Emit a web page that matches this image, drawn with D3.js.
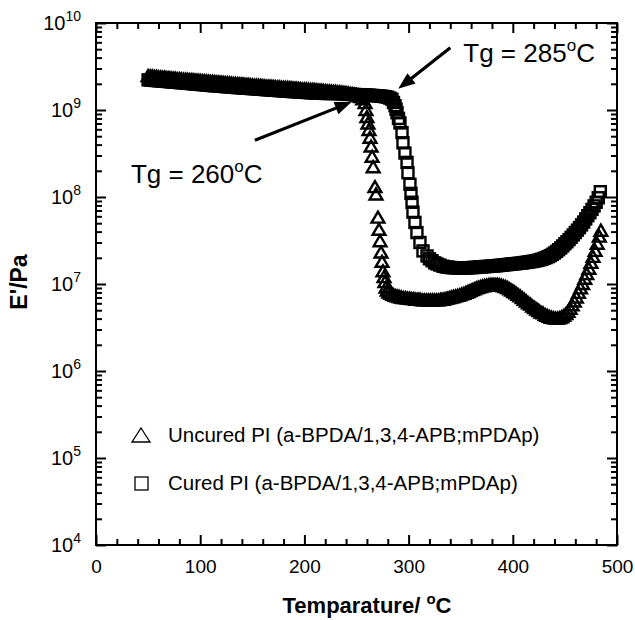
<!DOCTYPE html>
<html>
<head>
<meta charset="utf-8">
<script src="https://cdnjs.cloudflare.com/ajax/libs/d3/7.8.5/d3.min.js"></script>
<style>
  body { margin: 0; background: #fff; }
  text { font-family: Arial, "Liberation Sans", sans-serif; fill: #000; }
</style>
</head>
<body>
<div id="chart"></div>
<script>
// ---- data (temperature in degC, E' in Pa) ----
var uncuredT = [
  50,52,54,56,58,60,62,64,66,68,
  70,72,74,76,78,80,82,84,86,88,
  90,92,94,96,98,100,102,104,106,108,
  110,112,114,116,118,120,122,124,126,128,
  130,132,134,136,138,140,142,144,146,148,
  150,152,154,156,158,160,162,164,166,168,
  170,172,174,176,178,180,182,184,186,188,
  190,192,194,196,198,200,202,204,206,208,
  210,212,214,216,218,220,222,224,226,228,
  230,232,234,236,238,240,242,244,246,248,
  250,252,254,256,
  258.2,259.1,260,261,262,263,264,265,266,267.7,
  268.7,270.6,271.6,272.6,273.5,274.5,275.4,276.4,277.3,278.3,279.5,
  281,283,285,287,289,291,293,295,297,299,
  301,303,305,307,309,311,313,315,317,319,
  321,323,325,327,329,331,333,335,337,339,
  341,343,345,347,349,351,353,355,357,359,
  361,363,365,367,369,371,373,375,377,379,
  381,383,385,387,389,391,393,395,397,399,
  401,403,405,407,409,411,413,415,417,419,
  421,423,425,427,429,431,433,435,437,439,
  441,443,445,447,449,451,453,455,457,459,
  461,463,465,467,469,471,473,475,477,479,
  481,483,484.5
];
var uncuredE = [
  2.45e9,2.44e9,2.43e9,2.41e9,2.40e9,2.38e9,2.37e9,2.36e9,2.35e9,2.33e9,
  2.32e9,2.31e9,2.30e9,2.29e9,2.27e9,2.26e9,2.25e9,2.24e9,2.23e9,2.22e9,
  2.21e9,2.20e9,2.19e9,2.18e9,2.17e9,2.16e9,2.15e9,2.14e9,2.13e9,2.12e9,
  2.11e9,2.10e9,2.09e9,2.08e9,2.07e9,2.06e9,2.05e9,2.04e9,2.03e9,2.02e9,
  2.01e9,2.00e9,1.99e9,1.98e9,1.97e9,1.97e9,1.96e9,1.95e9,1.94e9,1.93e9,
  1.92e9,1.91e9,1.91e9,1.90e9,1.89e9,1.88e9,1.87e9,1.86e9,1.86e9,1.85e9,
  1.84e9,1.83e9,1.82e9,1.82e9,1.81e9,1.80e9,1.79e9,1.79e9,1.78e9,1.77e9,
  1.76e9,1.76e9,1.75e9,1.74e9,1.73e9,1.73e9,1.72e9,1.71e9,1.70e9,1.70e9,
  1.69e9,1.68e9,1.67e9,1.67e9,1.66e9,1.65e9,1.64e9,1.64e9,1.63e9,1.62e9,
  1.61e9,1.60e9,1.59e9,1.58e9,1.57e9,1.56e9,1.55e9,1.53e9,1.52e9,1.50e9,
  1.48e9,1.45e9,1.41e9,1.33e9,
  1.2e9,1.0e9,8.3e8,7.0e8,5.9e8,4.8e8,3.8e8,2.9e8,2.2e8,1.3e8,
  1.07e8,5.8e7,4.2e7,3.1e7,2.3e7,1.8e7,1.4e7,1.2e7,1.05e7,9.1e6,8.4e6,
  8.0e6,7.7e6,7.5e6,7.3e6,7.2e6,7.1e6,7.0e6,6.9e6,6.9e6,6.8e6,
  6.8e6,6.7e6,6.7e6,6.6e6,6.6e6,6.6e6,6.5e6,6.5e6,6.5e6,6.5e6,
  6.5e6,6.5e6,6.5e6,6.5e6,6.5e6,6.6e6,6.6e6,6.7e6,6.8e6,6.9e6,
  7.0e6,7.1e6,7.2e6,7.3e6,7.4e6,7.6e6,7.7e6,7.9e6,8.1e6,8.3e6,
  8.5e6,8.7e6,8.9e6,9.1e6,9.2e6,9.4e6,9.5e6,9.6e6,9.7e6,9.8e6,
  9.8e6,9.8e6,9.8e6,9.7e6,9.6e6,9.4e6,9.2e6,9.0e6,8.7e6,8.4e6,
  8.1e6,7.8e6,7.5e6,7.2e6,6.9e6,6.6e6,6.3e6,6.0e6,5.8e6,5.5e6,
  5.3e6,5.1e6,4.9e6,4.7e6,4.6e6,4.4e6,4.3e6,4.2e6,4.1e6,4.05e6,
  4.0e6,4.0e6,4.05e6,4.15e6,4.3e6,4.5e6,4.8e6,5.2e6,5.7e6,6.3e6,
  7.0e6,7.9e6,8.9e6,1.0e7,1.15e7,1.3e7,1.5e7,1.75e7,2.05e7,2.4e7,
  2.9e7,3.5e7,4.1e7
];

var curedT = [
  50,52,54,56,58,60,62,64,66,68,
  70,72,74,76,78,80,82,84,86,88,
  90,92,94,96,98,100,102,104,106,108,
  110,112,114,116,118,120,122,124,126,128,
  130,132,134,136,138,140,142,144,146,148,
  150,152,154,156,158,160,162,164,166,168,
  170,172,174,176,178,180,182,184,186,188,
  190,192,194,196,198,200,202,204,206,208,
  210,212,214,216,218,220,222,224,226,228,
  230,232,234,236,238,240,242,244,246,248,
  250,252,254,256,258,260,262,264,266,268,
  270,272,274,276,278,280,282,284,
  285.5,287,288,288.9,290.3,291.7,293.7,294.6,296.5,298.5,
  299.4,301.3,302.3,303.3,304.2,306.1,308,310.9,313.8,317.7,
  320,322.5,325,327.3,330,333,
  336,338,340,342,344,346,348,350,352,354,
  356,358,360,362,364,366,368,370,372,374,
  376,378,380,382,384,386,388,390,392,394,
  396,398,400,402,404,406,408,410,412,414,
  416,418,420,422,424,426,428,430,432,434,
  436,438,440,442,444,446,448,450,452,454,
  456,458,460,462,464,466,468,470,472,474,
  476,478,480,482,484
];
var curedE = [
  2.22e9,2.21e9,2.20e9,2.19e9,2.18e9,2.17e9,2.16e9,2.15e9,2.14e9,2.13e9,
  2.12e9,2.11e9,2.10e9,2.09e9,2.08e9,2.07e9,2.06e9,2.05e9,2.04e9,2.03e9,
  2.02e9,2.01e9,2.00e9,1.99e9,1.98e9,1.97e9,1.96e9,1.95e9,1.94e9,1.93e9,
  1.92e9,1.91e9,1.90e9,1.90e9,1.89e9,1.88e9,1.87e9,1.86e9,1.85e9,1.85e9,
  1.84e9,1.83e9,1.82e9,1.81e9,1.81e9,1.80e9,1.79e9,1.78e9,1.78e9,1.77e9,
  1.76e9,1.76e9,1.75e9,1.74e9,1.73e9,1.73e9,1.72e9,1.71e9,1.71e9,1.70e9,
  1.69e9,1.69e9,1.68e9,1.67e9,1.67e9,1.66e9,1.65e9,1.65e9,1.64e9,1.63e9,
  1.63e9,1.62e9,1.62e9,1.61e9,1.60e9,1.60e9,1.59e9,1.59e9,1.58e9,1.58e9,
  1.57e9,1.57e9,1.56e9,1.56e9,1.56e9,1.55e9,1.55e9,1.55e9,1.55e9,1.55e9,
  1.55e9,1.55e9,1.54e9,1.54e9,1.53e9,1.53e9,1.52e9,1.52e9,1.51e9,1.51e9,
  1.50e9,1.50e9,1.50e9,1.49e9,1.49e9,1.48e9,1.48e9,1.47e9,1.47e9,1.46e9,
  1.46e9,1.45e9,1.44e9,1.43e9,1.42e9,1.40e9,1.37e9,1.33e9,
  1.22e9,1.12e9,1.02e9,9.3e8,8.0e8,7.1e8,5.5e8,4.2e8,3.2e8,2.5e8,
  1.9e8,1.4e8,1.1e8,8.7e7,6.7e7,5.1e7,3.9e7,3.0e7,2.4e7,2.1e7,
  1.95e7,1.85e7,1.75e7,1.7e7,1.65e7,1.6e7,
  1.57e7,1.56e7,1.55e7,1.54e7,1.54e7,1.53e7,1.53e7,1.53e7,1.53e7,1.53e7,
  1.54e7,1.54e7,1.54e7,1.55e7,1.55e7,1.56e7,1.57e7,1.57e7,1.58e7,1.59e7,
  1.59e7,1.60e7,1.61e7,1.61e7,1.62e7,1.63e7,1.64e7,1.65e7,1.66e7,1.67e7,
  1.68e7,1.69e7,1.70e7,1.71e7,1.72e7,1.73e7,1.74e7,1.75e7,1.77e7,1.78e7,
  1.80e7,1.81e7,1.83e7,1.85e7,1.87e7,1.90e7,1.93e7,1.97e7,2.01e7,2.06e7,
  2.12e7,2.19e7,2.27e7,2.37e7,2.48e7,2.60e7,2.74e7,2.90e7,3.06e7,3.24e7,
  3.44e7,3.66e7,3.90e7,4.16e7,4.45e7,4.78e7,5.15e7,5.6e7,6.1e7,6.6e7,
  7.2e7,7.9e7,8.7e7,9.8e7,1.15e8
];

var xTickLabels = [0, 100, 200, 300, 400, 500];
var yExponents = [4, 5, 6, 7, 8, 9, 10];
var legendLabels = ["Uncured PI (a-BPDA/1,3,4-APB;mPDAp)", "Cured PI (a-BPDA/1,3,4-APB;mPDAp)"];

// annotations: [text, textT, textE, tailT, tailE, tipT, tipE]
var notes = [
  ["285", 352.5, 3.55e9, 340, 5.2e9, 290, 1.75e9],
  ["260", 33.5, 1.46e8, 152.5, 4.5e8, 245.5, 1.24e9]
];

var W = 635, H = 620;
var x = d3.scaleLinear().domain([0, 500]).range([96, 617]);
var y = d3.scaleLog().domain([1e4, 1e10]).range([545, 23]);

var svg = d3.select("#chart").append("svg")
    .attr("width", W)
    .attr("height", H);

var xMinor = d3.range(0, 501, 20).filter(function (v) { return v % 100 !== 0; });
var yMajor = yExponents.map(function (e) { return Math.pow(10, e); });
var yMinor = [];
yExponents.slice(0, -1).forEach(function (e) {
    for (var k = 2; k <= 9; k++) yMinor.push(k * Math.pow(10, e));
});

function drawAxis(axis, tr) {
    var g = svg.append("g").attr("transform", tr).call(axis);
    g.select(".domain").remove();
    g.selectAll(".tick line").attr("stroke", "#000").attr("stroke-width", 2);
    return g;
}

// bottom
var gx = drawAxis(d3.axisBottom(x).tickValues(xTickLabels).tickSize(-10).tickPadding(15)
    .tickFormat(d3.format("d")), "translate(0,545)");
gx.selectAll("text").attr("font-size", 19).attr("font-family", "Arial, 'Liberation Sans', sans-serif");
drawAxis(d3.axisBottom(x).tickValues(xMinor).tickSize(-6).tickFormat(""), "translate(0,545)");
// top
drawAxis(d3.axisTop(x).tickValues(xTickLabels).tickSize(-10).tickFormat(""), "translate(0,23)");
drawAxis(d3.axisTop(x).tickValues(xMinor).tickSize(-6).tickFormat(""), "translate(0,23)");
// left
drawAxis(d3.axisLeft(y).tickValues(yMajor).tickSize(-10).tickFormat(""), "translate(96,0)");
drawAxis(d3.axisLeft(y).tickValues(yMinor).tickSize(-6).tickFormat(""), "translate(96,0)");
// right
drawAxis(d3.axisRight(y).tickValues(yMajor).tickSize(-10).tickFormat(""), "translate(617,0)");
drawAxis(d3.axisRight(y).tickValues(yMinor).tickSize(-6).tickFormat(""), "translate(617,0)");

// frame
svg.append("rect")
    .attr("x", x(0)).attr("y", y(1e10))
    .attr("width", x(500) - x(0)).attr("height", y(1e4) - y(1e10))
    .attr("fill", "none").attr("stroke", "#000").attr("stroke-width", 2);

// y tick labels 10^n
var yl = svg.append("g").selectAll("text").data(yExponents).enter().append("text")
    .attr("x", 81)
    .attr("y", function (d) { return y(Math.pow(10, d)) + 6.5; })
    .attr("text-anchor", "end")
    .attr("font-size", 20)
    .text("10");
yl.append("tspan")
    .attr("dy", -8.5)
    .attr("font-size", 14)
    .text(function (d) { return d; });

// axis titles
var xt = svg.append("text")
    .attr("x", 367).attr("y", 613)
    .attr("text-anchor", "middle")
    .attr("font-size", 22).attr("font-weight", "bold")
    .text("Temparature/ ");
xt.append("tspan").attr("dy", -9).attr("font-size", 15).text("o");
xt.append("tspan").attr("dy", 9).text("C");

svg.append("text")
    .attr("transform", "translate(27,282) rotate(-90)")
    .attr("text-anchor", "middle")
    .attr("font-size", 23).attr("font-weight", "bold")
    .text("E'/Pa");

// data markers
var triPath = "M0,-6L6.4,5L-6.4,5Z";
var uncured = uncuredT.map(function (t, i) { return { t: t, e: uncuredE[i] }; });
var cured = curedT.map(function (t, i) { return { t: t, e: curedE[i] }; });

svg.append("g").selectAll("path").data(uncured).enter().append("path")
    .attr("d", triPath)
    .attr("transform", function (d) { return "translate(" + x(d.t) + "," + y(d.e) + ")"; })
    .attr("fill", "none").attr("stroke", "#000").attr("stroke-width", 2.4);

svg.append("g").selectAll("rect").data(cured).enter().append("rect")
    .attr("x", function (d) { return x(d.t) - 5.5; })
    .attr("y", function (d) { return y(d.e) - 5.5; })
    .attr("width", 11).attr("height", 11)
    .attr("fill", "none").attr("stroke", "#000").attr("stroke-width", 2.4);

// annotations
notes.forEach(function (n) {
    var t = svg.append("text")
        .attr("x", x(n[1])).attr("y", y(n[2]))
        .attr("font-size", 26)
        .text("Tg = " + n[0]);
    t.append("tspan").attr("dy", -11).attr("font-size", 17).text("o");
    t.append("tspan").attr("dy", 11).text("C");

    var x0 = x(n[3]), y0 = y(n[4]), x1 = x(n[5]), y1 = y(n[6]);
    var ang = Math.atan2(y1 - y0, x1 - x0);
    var hl = 17, hw = 6.5;
    var bx = x1 - hl * Math.cos(ang), by = y1 - hl * Math.sin(ang);
    svg.append("line")
        .attr("x1", x0).attr("y1", y0).attr("x2", bx + 2 * Math.cos(ang)).attr("y2", by + 2 * Math.sin(ang))
        .attr("stroke", "#000").attr("stroke-width", 3.2);
    svg.append("path")
        .attr("d", "M" + x1 + "," + y1 +
            "L" + (bx - hw * Math.sin(ang)) + "," + (by + hw * Math.cos(ang)) +
            "L" + (bx + hw * Math.sin(ang)) + "," + (by - hw * Math.cos(ang)) + "Z")
        .attr("fill", "#000");
});

// legend
var lg = svg.append("g");
lg.append("path")
    .attr("d", "M141,428L150,442L132,442Z")
    .attr("fill", "none").attr("stroke", "#000").attr("stroke-width", 1.3);
lg.append("rect")
    .attr("x", 135).attr("y", 477).attr("width", 13).attr("height", 13)
    .attr("fill", "none").attr("stroke", "#000").attr("stroke-width", 1.3);
lg.selectAll("text").data(legendLabels).enter().append("text")
    .attr("x", 168)
    .attr("y", function (d, i) { return 442 + i * 48; })
    .attr("font-size", 20.5)
    .text(function (d) { return d; });
</script>
</body>
</html>
